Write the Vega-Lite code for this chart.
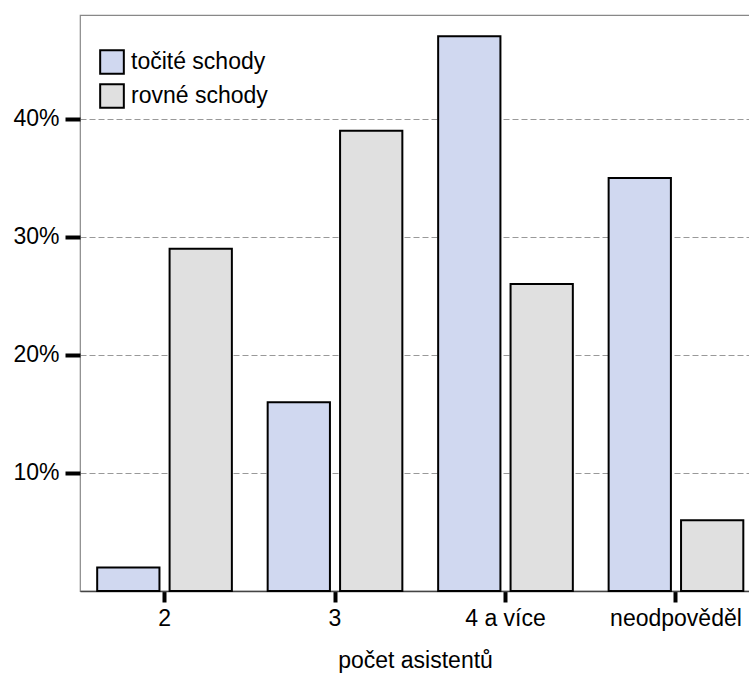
{
  "$schema": "https://vega.github.io/schema/vega-lite/v6.json",
  "width": 670,
  "height": 576,
  "autosize": {"type": "none"},
  "padding": {"left": 80, "top": 15, "right": 0, "bottom": 87},
  "background": "white",
  "config": {
    "font": "Liberation Sans",
    "view": {"stroke": "#888888", "strokeWidth": 1.2}
  },
  "data": {
    "values": [
      {"skupina": "2", "typ": "točité schody", "podil": 0.02},
      {"skupina": "2", "typ": "rovné schody", "podil": 0.29},
      {"skupina": "3", "typ": "točité schody", "podil": 0.16},
      {"skupina": "3", "typ": "rovné schody", "podil": 0.39},
      {"skupina": "4 a více", "typ": "točité schody", "podil": 0.47},
      {"skupina": "4 a více", "typ": "rovné schody", "podil": 0.26},
      {"skupina": "neodpověděl", "typ": "točité schody", "podil": 0.35},
      {"skupina": "neodpověděl", "typ": "rovné schody", "podil": 0.06}
    ]
  },
  "mark": {"type": "bar", "stroke": "black", "strokeWidth": 2},
  "encoding": {
    "x": {
      "field": "skupina",
      "type": "nominal",
      "sort": ["2", "3", "4 a více", "neodpověděl"],
      "scale": {"paddingInner": 0.21, "paddingOuter": 0.07, "align": 0.72},
      "axis": {
        "title": "počet asistentů",
        "titleFontSize": 23,
        "titleFontWeight": "normal",
        "titleColor": "black",
        "titlePadding": 19,
        "labelAngle": 0,
        "labelFontSize": 23,
        "labelColor": "black",
        "labelPadding": 5,
        "tickSize": 11,
        "tickWidth": 4,
        "tickColor": "black",
        "domainColor": "#444444",
        "domainWidth": 1.5,
        "grid": false
      }
    },
    "xOffset": {
      "field": "typ",
      "type": "nominal",
      "sort": ["točité schody", "rovné schody"],
      "scale": {"paddingInner": 0.14, "paddingOuter": 0}
    },
    "y": {
      "field": "podil",
      "type": "quantitative",
      "scale": {"domain": [0, 0.488], "nice": false},
      "axis": {
        "title": null,
        "values": [0.1, 0.2, 0.3, 0.4],
        "format": ".0%",
        "labelFontSize": 23,
        "labelColor": "black",
        "labelPadding": 6,
        "tickSize": 15,
        "tickWidth": 4,
        "tickColor": "black",
        "domain": false,
        "grid": true,
        "gridColor": "#999999",
        "gridDash": [6, 3],
        "gridWidth": 1
      }
    },
    "fill": {
      "field": "typ",
      "type": "nominal",
      "sort": ["točité schody", "rovné schody"],
      "scale": {"domain": ["točité schody", "rovné schody"], "range": ["#d0d8f0", "#e0e0e0"]},
      "legend": {
        "title": null,
        "orient": "none",
        "legendX": 19,
        "legendY": 34,
        "symbolType": "square",
        "symbolSize": 560,
        "symbolStrokeColor": "black",
        "symbolStrokeWidth": 2,
        "symbolOpacity": 1,
        "labelFontSize": 23,
        "labelColor": "black",
        "labelOffset": 6,
        "rowPadding": 2
      }
    }
  }
}
